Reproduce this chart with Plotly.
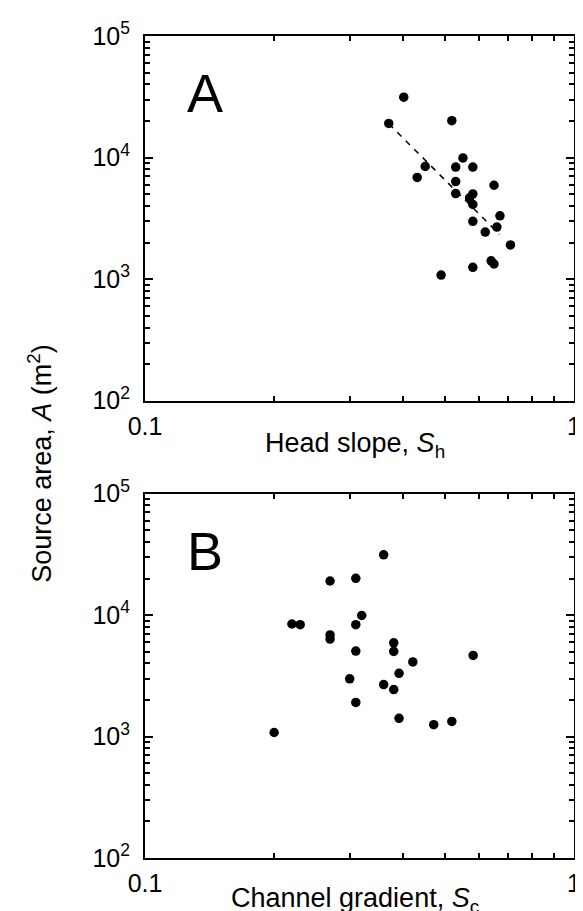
import numpy as np
import plotly.graph_objects as go

# ---- data ----
area = [31400, 20100, 19100, 9930, 8450, 8350, 8350, 6870, 6350, 5920, 5060, 5020,
        4660, 4120, 3320, 2990, 2680, 2440, 1910, 1414, 1332, 1252, 1080]
head_slope = [0.401, 0.519, 0.370, 0.551, 0.450, 0.530, 0.581, 0.431, 0.530, 0.651, 0.530, 0.581,
              0.571, 0.581, 0.672, 0.581, 0.661, 0.621, 0.711, 0.641, 0.651, 0.581, 0.490]
channel_gradient = [0.360, 0.310, 0.270, 0.320, 0.220, 0.230, 0.310, 0.270, 0.270, 0.380, 0.310, 0.380,
                    0.582, 0.421, 0.391, 0.300, 0.360, 0.380, 0.310, 0.391, 0.519, 0.471, 0.200]

# power-law fit shown in panel A: A = fit_coef * S^fit_exp
fit_coef = 568.0
fit_exp = -3.53
fit_range = [0.37, 0.67]

x_tickvals = [0.1, 1]
x_ticktext = ["0.1", "1"]
x_minor = [0.2, 0.3, 0.4, 0.5, 0.6, 0.7, 0.8, 0.9]
y_tickvals = [1e2, 1e3, 1e4, 1e5]
y_ticktext = ["10<sup>2</sup>", "10<sup>3</sup>", "10<sup>4</sup>", "10<sup>5</sup>"]
y_minor = [m * 10 ** e for e in (2, 3, 4) for m in range(2, 10)]

FONT = "Liberation Sans, Arial, Helvetica, sans-serif"

fit_x = np.array(fit_range)
fit_y = fit_coef * fit_x ** fit_exp

fig = go.Figure()
fig.add_trace(go.Scatter(x=head_slope, y=area, mode="markers",
                         marker=dict(color="black", size=9.5, line=dict(width=0)),
                         xaxis="x", yaxis="y", showlegend=False))
fig.add_trace(go.Scatter(x=fit_x, y=fit_y, mode="lines",
                         line=dict(color="black", width=1.5, dash="6px,6px"),
                         xaxis="x", yaxis="y", showlegend=False))
fig.add_trace(go.Scatter(x=channel_gradient, y=area, mode="markers",
                         marker=dict(color="black", size=9.5, line=dict(width=0)),
                         xaxis="x2", yaxis="y2", showlegend=False))


def xaxis(anchor):
    return dict(type="log", range=[-1, 0], anchor=anchor, domain=[0, 1],
                showgrid=False, zeroline=False, showline=True, linecolor="black", linewidth=2,
                mirror="allticks", ticks="inside", ticklen=8, tickwidth=1.5, tickcolor="black",
                tickmode="array", tickvals=x_tickvals, ticktext=x_ticktext,
                tickfont=dict(family=FONT, size=25, color="black"), ticklabelstandoff=2,
                minor=dict(tickmode="array", tickvals=x_minor, ticks="inside", ticklen=5,
                           tickwidth=1.5, tickcolor="black", showgrid=False))


def yaxis(anchor, domain):
    return dict(type="log", range=[2, 5], anchor=anchor, domain=domain,
                showgrid=False, zeroline=False, showline=True, linecolor="black", linewidth=2,
                mirror="allticks", ticks="inside", ticklen=8, tickwidth=1.5, tickcolor="black",
                tickmode="array", tickvals=y_tickvals, ticktext=y_ticktext,
                tickfont=dict(family=FONT, size=25, color="black"), ticklabelstandoff=8,
                minor=dict(tickmode="array", tickvals=y_minor, ticks="inside", ticklen=5,
                           tickwidth=1.5, tickcolor="black", showgrid=False))


fig.update_layout(
    width=583, height=911,
    margin=dict(l=137, r=10, t=28, b=61),
    paper_bgcolor="white", plot_bgcolor="white",
    font=dict(family=FONT, color="black"),
    xaxis=xaxis("y"), yaxis=yaxis("x", [0.5563, 1.0]),
    xaxis2=xaxis("y2"), yaxis2=yaxis("x2", [0.0, 0.4432]),
    showlegend=False,
)

annots = [
    dict(text="A", xref="x domain", yref="y domain", x=0.094, y=0.844,
         xanchor="left", yanchor="middle", showarrow=False,
         font=dict(family=FONT, size=54, color="black")),
    dict(text="B", xref="x2 domain", yref="y2 domain", x=0.094, y=0.844,
         xanchor="left", yanchor="middle", showarrow=False,
         font=dict(family=FONT, size=54, color="black")),
    dict(text="Head slope, <i>S</i><sub>h</sub>", xref="paper", yref="paper",
         x=0.4885, y=0.5024, xanchor="center", yanchor="middle", showarrow=False,
         font=dict(family=FONT, size=27, color="black")),
    dict(text="Channel gradient, <i>S</i><sub>c</sub>", xref="paper", yref="paper",
         x=0.4885, y=-0.0511, xanchor="center", yanchor="middle", showarrow=False,
         font=dict(family=FONT, size=27, color="black")),
    dict(text="Source area, <i>A</i> (m<sup>2</sup>)", xref="paper", yref="paper",
         x=-0.2454, y=0.4805, xanchor="center", yanchor="middle", textangle=-90,
         showarrow=False, font=dict(family=FONT, size=27, color="black")),
]
fig.update_layout(annotations=annots)

fig.write_html("out.html")
